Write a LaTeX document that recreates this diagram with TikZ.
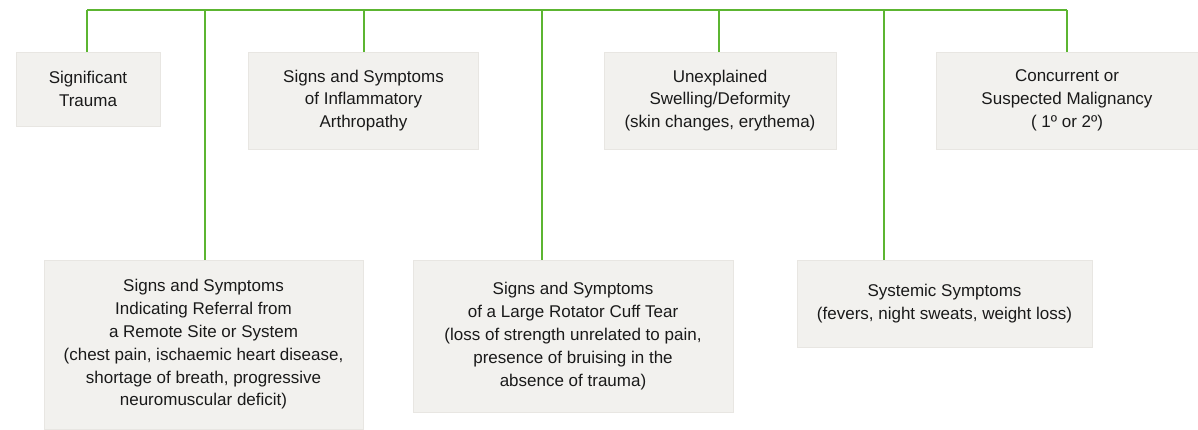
\documentclass[tikz,border=0pt]{standalone}
\usepackage{fontspec}
\setmainfont{Liberation Sans}
\definecolor{boxfill}{HTML}{F2F1EE}
\definecolor{boxedge}{HTML}{E8E6E2}
\definecolor{conngreen}{HTML}{5CB531}
\definecolor{txt}{HTML}{1A1A1A}
\tikzset{
  box/.style={fill=boxfill, draw=boxedge, line width=0.8pt, inner sep=0pt, align=center,
    text=txt, font=\fontsize{17}{22.8}\selectfont},
  conn/.style={draw=conngreen, line width=2pt},
}
\begin{document}
\begin{tikzpicture}[x=1pt,y=-1pt]
\useasboundingbox[fill=white] (0,0) rectangle (1198,430);
% top row
\node[box, minimum width=144pt, minimum height=74pt] (trauma) at (88,89) {Significant\\Trauma};
\node[box, minimum width=230pt, minimum height=97pt] (inflam) at (363.5,100.5) {Signs and Symptoms\\of Inflammatory\\Arthropathy};
\node[box, minimum width=232pt, minimum height=97pt] (swell) at (720,100.5) {Unexplained\\Swelling/Deformity\\(skin changes, erythema)};
\node[box, minimum width=262pt, minimum height=97pt] (malig) at (1067,100.5) {Concurrent or\\Suspected Malignancy\\( 1º or 2º)};
% bottom row
\node[box, minimum width=319pt, minimum height=169pt] (referral) at (203.5,344.5) {Signs and Symptoms\\Indicating Referral from\\a Remote Site or System\\(chest pain, ischaemic heart disease,\\shortage of breath, progressive\\neuromuscular deficit)};
\node[box, minimum width=320pt, minimum height=152pt] (cuff) at (573,336) {Signs and Symptoms\\of a Large Rotator Cuff Tear\\(loss of strength unrelated to pain,\\presence of bruising in the\\absence of trauma)};
\node[box, minimum width=295pt, minimum height=87pt] (systemic) at (944.5,303.5) {Systemic Symptoms\\(fevers, night sweats, weight loss)};
% connectors
\coordinate (L) at (87,10);
\coordinate (R) at (1067,10);
\draw[conn] (L) -- (R);
\draw[conn] (trauma.north -| L) -- (L);
\draw[conn] (inflam.north) -- (inflam.north |- L);
\draw[conn] (swell.north -| 719,0) -- (719,10);
\draw[conn] (malig.north -| R) -- (R);
\draw[conn] (referral.north -| 205,0) -- (205,10);
\draw[conn] (cuff.north -| 542,0) -- (542,10);
\draw[conn] (systemic.north -| 884,0) -- (884,10);
\end{tikzpicture}
\end{document}
